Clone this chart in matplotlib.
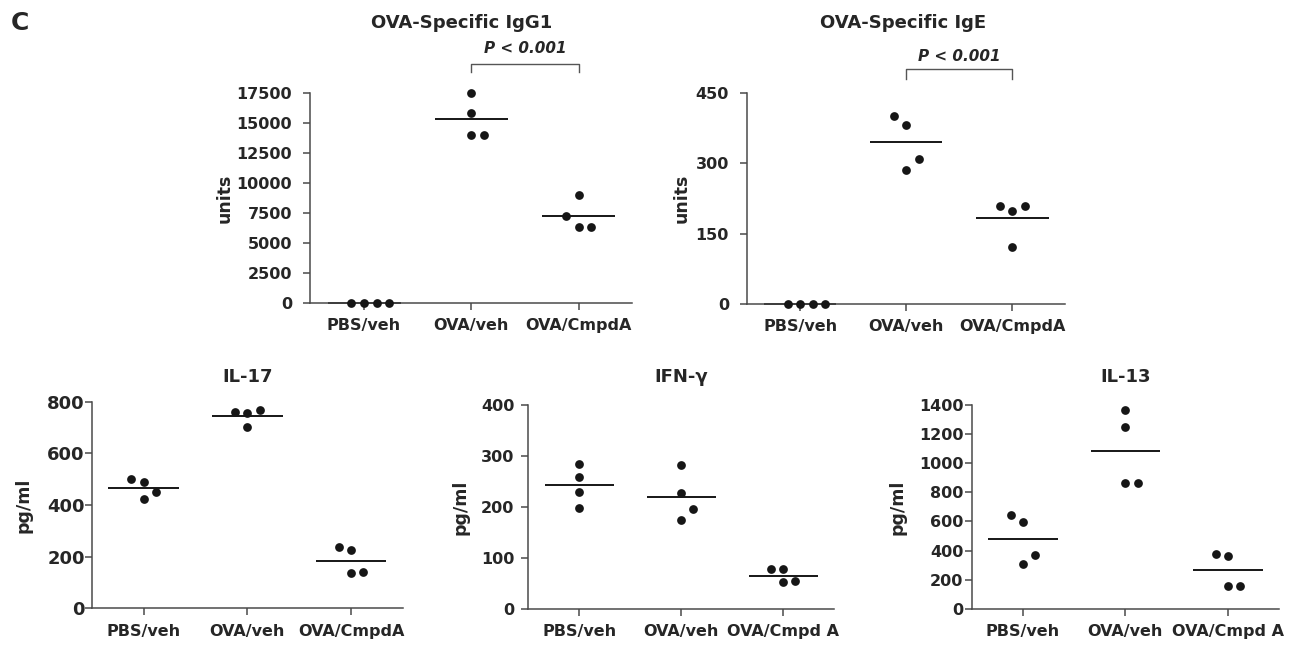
import matplotlib
matplotlib.use('Agg')
import matplotlib.pyplot as plt
import numpy as np

plt.rcParams['font.family'] = ['DejaVu Sans']
plt.rcParams['font.weight'] = 'bold'

# group labels
groups_top = ['PBS/veh', 'OVA/veh', 'OVA/CmpdA']
groups_il17 = ['PBS/veh', 'OVA/veh', 'OVA/CmpdA']
groups_cmpd_a = ['PBS/veh', 'OVA/veh', 'OVA/Cmpd A']

# OVA-specific IgG1 (units)
igg1_pbs = [0, 0, 0, 0]
igg1_ova = [17500, 15830, 14030, 14030]
igg1_cmpd = [9000, 7220, 6330, 6330]

# OVA-specific IgE (units)
ige_pbs = [0, 0, 0, 0]
ige_ova = [401, 381, 309, 285]
ige_cmpd = [208, 198, 209, 122]

# IL-17 (pg/ml)
il17_pbs = [500, 490, 449, 422]
il17_ova = [759, 756, 769, 701]
il17_cmpd = [237, 227, 137, 139]

# IFN-gamma (pg/ml)
ifn_pbs = [285, 259, 229, 198]
ifn_ova = [282, 228, 195, 174]
ifn_cmpd = [77, 77, 52, 54]

# IL-13 (pg/ml)
il13_pbs = [646, 598, 369, 309]
il13_ova = [1363, 1252, 866, 866]
il13_cmpd = [378, 364, 156, 156]

# horizontal slot of each dot inside its column (column-scatter layout)
slots_igg1 = [[-1, 0, 1, 2], [0, 0, 0, 1], [0, -1, 0, 1]]
slots_ige = [[-1, 0, 1, 2], [-1, 0, 1, 0], [-1, 0, 1, 0]]
slots_il17 = [[-1, 0, 1, 0], [-1, 0, 1, 0], [-1, 0, 0, 1]]
slots_ifn = [[0, 0, 0, 0], [0, 0, 1, 0], [-1, 0, 0, 1]]
slots_il13 = [[-1, 0, 1, 0], [0, 0, 0, 1], [-1, 0, 0, 1]]

SLOT = 0.118
HALF = 0.34
INK = '#161616'
AXC = '#4a4a4a'
TXT = '#262626'


def scatter_panel(ax, labels, samples, slots, ymax, ystep, size=11.5, ypad=6):
    for i, (vals, sl) in enumerate(zip(samples, slots)):
        x = i + np.array(sl) * SLOT
        ax.plot(x, vals, 'o', color=INK, ms=6.3, mew=0, clip_on=False, zorder=3)
        m = np.mean(vals)
        ax.plot([i - HALF, i + HALF], [m, m], color=INK, lw=1.4,
                solid_capstyle='butt', clip_on=False, zorder=2)
    ax.set_xlim(-0.5, 2.5)
    ax.set_ylim(0, ymax)
    ax.set_yticks(np.arange(0, ymax + 1, ystep))
    ax.set_xticks(range(3))
    ax.set_xticklabels(labels)
    for s in ('top', 'right'):
        ax.spines[s].set_visible(False)
    for s in ('left', 'bottom'):
        ax.spines[s].set_color(AXC)
        ax.spines[s].set_linewidth(1.1)
    ax.tick_params(axis='both', length=5, width=1.1, color=AXC,
                   labelsize=size, labelcolor=TXT)
    ax.tick_params(axis='y', pad=ypad)
    ax.tick_params(axis='x', pad=6)


def label_panel(ax, title, ty, tx, ylabel, lx):
    ax.text(tx, ty, title, transform=ax.transAxes, ha='center', va='center',
            fontsize=13, color=TXT)
    ax.text(lx, 0.5, ylabel, transform=ax.transAxes, ha='center', va='center',
            rotation=90, fontsize=12.5, color=TXT)


def bracket(ax, y_line, y_tick, y_text):
    tr = ax.get_xaxis_transform()
    ax.plot([1, 1, 2, 2], [y_tick, y_line, y_line, y_tick], transform=tr,
            color='#555555', lw=1.0, clip_on=False)
    ax.text(1.5, y_text, 'P < 0.001', transform=tr, ha='center', va='center',
            style='italic', fontsize=11, color=TXT)


fig = plt.figure(figsize=(13.04, 6.47), dpi=100)

ax1 = fig.add_axes([0.238, 0.5317, 0.247, 0.3246])
scatter_panel(ax1, groups_top, [igg1_pbs, igg1_ova, igg1_cmpd], slots_igg1, 17500, 2500, ypad=8)
label_panel(ax1, 'OVA-Specific IgG1', 1.333, 0.47, 'units', -0.265)
bracket(ax1, 1.138, 1.101, 1.21)

ax2 = fig.add_axes([0.5729, 0.5301, 0.2442, 0.3266])
scatter_panel(ax2, groups_top, [ige_pbs, ige_ova, ige_cmpd], slots_ige, 450, 150, ypad=8)
label_panel(ax2, 'OVA-Specific IgE', 1.33, 0.49, 'units', -0.204)
bracket(ax2, 1.112, 1.063, 1.172)

ax3 = fig.add_axes([0.0703, 0.0598, 0.2387, 0.3193])
scatter_panel(ax3, groups_il17, [il17_pbs, il17_ova, il17_cmpd], slots_il17, 800, 200, ypad=0)
ax3.tick_params(axis='y', labelsize=13)
label_panel(ax3, 'IL-17', 1.121, 0.5, 'pg/ml', -0.2175)

ax4 = fig.add_axes([0.4051, 0.0592, 0.2347, 0.3148])
scatter_panel(ax4, groups_cmpd_a, [ifn_pbs, ifn_ova, ifn_cmpd], slots_ifn, 400, 100, ypad=5)
label_panel(ax4, 'IFN-γ', 1.139, 0.5, 'pg/ml', -0.221)

ax5 = fig.add_axes([0.7452, 0.0592, 0.2357, 0.3148])
scatter_panel(ax5, groups_cmpd_a, [il13_pbs, il13_ova, il13_cmpd], slots_il13, 1400, 200, ypad=1)
label_panel(ax5, 'IL-13', 1.139, 0.5, 'pg/ml', -0.243)

fig.text(20 / 1304, 1 - 23 / 647, 'C', fontsize=18, ha='center', va='center', color=TXT)

fig.savefig('out.png', dpi=100)
